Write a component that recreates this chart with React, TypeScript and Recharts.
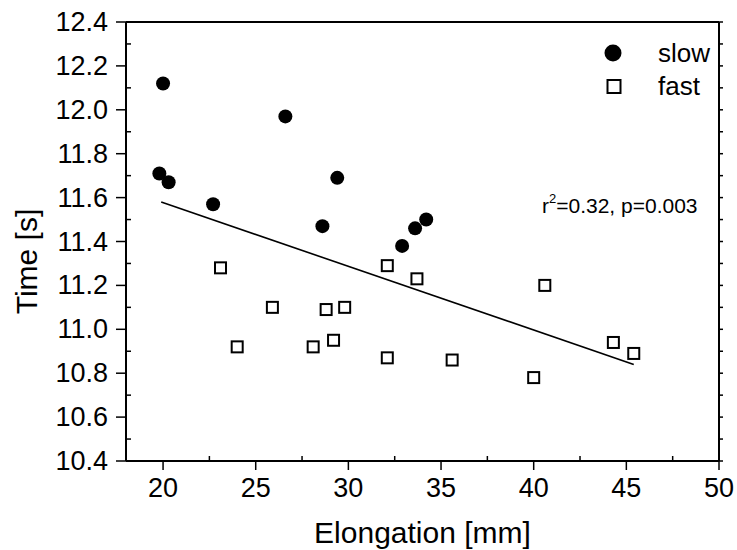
import React from "react";
import {
  ScatterChart,
  Scatter,
  XAxis,
  YAxis,
  ReferenceLine,
  Legend,
} from "recharts";

// slow group (filled circles)
const slowX = [20.0, 19.8, 20.3, 22.7, 26.6, 28.6, 29.4, 32.9, 33.6, 34.2];
const slowY = [12.12, 11.71, 11.67, 11.57, 11.97, 11.47, 11.69, 11.38, 11.46, 11.5];

// fast group (open squares)
const fastX = [23.1, 24.0, 25.9, 28.1, 28.8, 29.2, 29.8, 32.1, 32.1, 33.7, 35.6, 40.0, 40.6, 44.3, 45.4];
const fastY = [11.28, 10.92, 11.1, 10.92, 11.09, 10.95, 11.1, 11.29, 10.87, 11.23, 10.86, 10.78, 11.2, 10.94, 10.89];

// linear fit, end points
const fitX = [19.9, 45.4];
const fitY = [11.58, 10.84];

const xMajorTicks = [20, 25, 30, 35, 40, 45, 50];
const xMinorTicks = [22.5, 27.5, 32.5, 37.5, 42.5, 47.5];
const yMajorTicks = [10.4, 10.6, 10.8, 11.0, 11.2, 11.4, 11.6, 11.8, 12.0, 12.2, 12.4];
const yMinorTicks = [10.5, 10.7, 10.9, 11.1, 11.3, 11.5, 11.7, 11.9, 12.1, 12.3];

const FONT = '"Liberation Sans", Arial, sans-serif';

const slowData = slowX.map((x, i) => ({ x, y: slowY[i] }));
const fastData = fastX.map((x, i) => ({ x, y: fastY[i] }));
const xTicks = [...xMajorTicks, ...xMinorTicks].sort((a, b) => a - b);
const yTicks = [...yMajorTicks, ...yMinorTicks].sort((a, b) => a - b);

const isMajor = (v: number, list: number[]) => list.some((m) => Math.abs(m - v) < 1e-6);

function BottomTick({ x, y, payload }: any) {
  const major = isMajor(payload.value, xMajorTicks);
  return (
    <g>
      <line x1={x} x2={x} y1={y} y2={major ? y + 9 : y - 5} stroke="#000" strokeWidth={1.5} />
      {major && (
        <text x={x} y={y + 36} textAnchor="middle" fontSize={27} fill="#000" fontFamily={FONT}>
          {payload.value}
        </text>
      )}
    </g>
  );
}

function LeftTick({ x, y, payload }: any) {
  const major = isMajor(payload.value, yMajorTicks);
  return (
    <g>
      <line x1={x} x2={major ? x - 10 : x + 5} y1={y} y2={y} stroke="#000" strokeWidth={1.5} />
      {major && (
        <text x={x - 18} y={y} dy={9} textAnchor="end" fontSize={27} fill="#000" fontFamily={FONT}>
          {payload.value.toFixed(1)}
        </text>
      )}
    </g>
  );
}

function TopTick({ x, y }: any) {
  return <line x1={x} x2={x} y1={y} y2={y - 3} stroke="#000" strokeWidth={1.5} />;
}

function RightTick({ x, y }: any) {
  return <line x1={x} x2={x + 4} y1={y} y2={y} stroke="#000" strokeWidth={1.5} />;
}

function LegendBox() {
  return (
    <svg width={130} height={72} style={{ display: "block" }}>
      <circle cx={18} cy={19} r={8.5} fill="#000" />
      <text x={63} y={28} fontSize={26} fontFamily={FONT} fill="#000">slow</text>
      <rect x={12.5} y={46} width={13} height={13} fill="#fff" stroke="#000" strokeWidth={2} />
      <text x={63} y={61} fontSize={26} fontFamily={FONT} fill="#000">fast</text>
    </svg>
  );
}

export default function App() {
  return (
    <div style={{ position: "absolute", left: 0, top: 0, width: 737, height: 550, background: "#fff", fontFamily: FONT }}>
      <ScatterChart width={737} height={550} margin={{ top: 0, right: 0, bottom: 0, left: 0 }}>
        <XAxis
          type="number"
          dataKey="x"
          domain={[18, 50]}
          ticks={xTicks}
          interval={0}
          allowDataOverflow
          height={89}
          tickSize={0}
          tickMargin={0}
          tick={<BottomTick />}
          axisLine={{ stroke: "#000", strokeWidth: 2 }}
          label={{ value: "Elongation [mm]", position: "insideBottom", offset: 7, fontSize: 30, fill: "#000" }}
        />
        <XAxis
          xAxisId="top"
          orientation="top"
          type="number"
          domain={[18, 50]}
          ticks={xTicks}
          interval={0}
          allowDataOverflow
          height={22}
          tickSize={0}
          tickMargin={0}
          tick={<TopTick />}
          axisLine={{ stroke: "#000", strokeWidth: 2 }}
        />
        <YAxis
          type="number"
          dataKey="y"
          domain={[10.4, 12.4]}
          ticks={yTicks}
          interval={0}
          allowDataOverflow
          width={126}
          tickSize={0}
          tickMargin={0}
          tick={<LeftTick />}
          axisLine={{ stroke: "#000", strokeWidth: 2 }}
          label={{
            content: (props: any) => {
              const vb = props.viewBox;
              const cx = vb.x + 27;
              const cy = vb.y + vb.height / 2 + 20;
              return (
                <text x={cx} y={cy} dy={10} textAnchor="middle" fontSize={30} fill="#000" fontFamily={FONT} transform={`rotate(-90 ${cx} ${cy})`}>
                  Time [s]
                </text>
              );
            },
          }}
        />
        <YAxis
          yAxisId="right"
          orientation="right"
          type="number"
          domain={[10.4, 12.4]}
          ticks={yTicks}
          interval={0}
          allowDataOverflow
          width={18}
          tickSize={0}
          tickMargin={0}
          tick={<RightTick />}
          axisLine={{ stroke: "#000", strokeWidth: 2 }}
        />
        <ReferenceLine
          segment={[
            { x: fitX[0], y: fitY[0] },
            { x: fitX[1], y: fitY[1] },
          ]}
          stroke="#000"
          strokeWidth={1.6}
          ifOverflow="visible"
        />
        <Scatter
          name="slow"
          data={slowData}
          isAnimationActive={false}
          shape={(p: any) => <circle cx={p.cx} cy={p.cy} r={7} fill="#000" />}
        />
        <Scatter
          name="fast"
          data={fastData}
          isAnimationActive={false}
          shape={(p: any) => (
            <rect x={p.cx - 5.5} y={p.cy - 5.5} width={11} height={11} fill="#fff" stroke="#000" strokeWidth={2} />
          )}
        />
        <Legend
          layout="vertical"
          align="center"
          verticalAlign="middle"
          content={() => <LegendBox />}
          wrapperStyle={{ left: 595, top: 34, width: 130, height: 72 }}
        />
        <text x={542} y={213} fontSize={21} fill="#000" fontFamily={FONT}>
          r<tspan dy={-10} fontSize={13}>2</tspan>
          <tspan dy={10}>=0.32, p=0.003</tspan>
        </text>
      </ScatterChart>
    </div>
  );
}
